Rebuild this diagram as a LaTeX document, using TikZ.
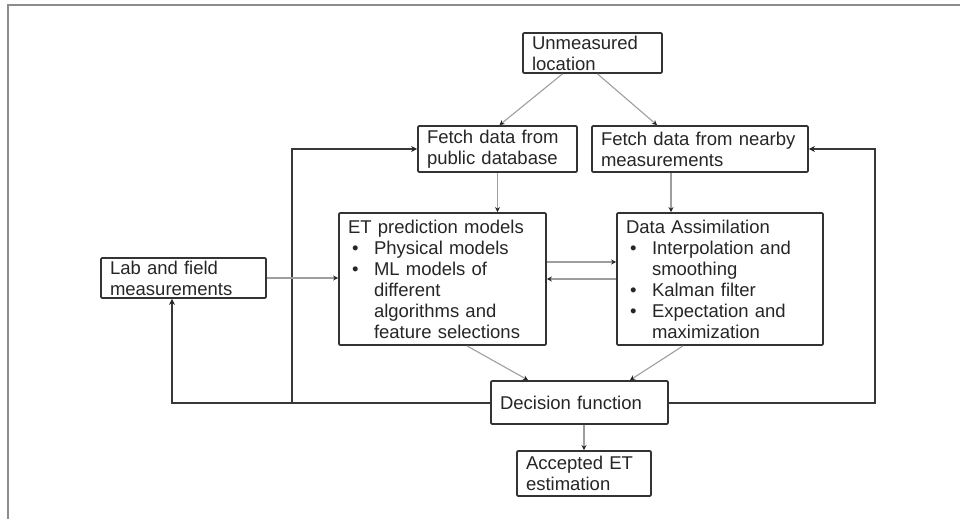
\documentclass[tikz,border=0pt]{standalone}
\usepackage{fontspec}
\setmainfont{Liberation Sans}
\usetikzlibrary{arrows.meta}
\newcommand{\bul}{\hspace*{4pt}\makebox[22pt][l]{\textbullet}}
\newcommand{\cont}{\hspace*{26pt}}
\begin{document}
\begin{tikzpicture}[x=1pt,y=-1pt,
  box/.style={draw=black!80, line width=1.8pt, rounded corners=1.2pt, fill=white,
    text=black!85, inner xsep=9pt, inner ysep=0pt, align=left,
    font=\fontsize{18.5}{21}\selectfont},
  flow/.style={draw=black!38, line width=1.1pt,
    -{Stealth[length=5pt,width=5pt,color=black!85]}},
  loop/.style={draw=black!78, line width=2pt},
  loopend/.style={loop, -{Stealth[length=6pt,width=6pt,color=black!85]}},
  frame/.style={draw=black!45, line width=2pt}]

% page area and partial frame
\useasboundingbox (0,0) rectangle (960,519);
\draw[frame] (960,5.5) -- (8,5.5) -- (8,519);

% boxes
\node[box, text width=121pt, minimum height=40pt] (unm) at (592.5,53) {Unmeasured\\location};
\node[box, text width=141pt, minimum height=46pt] (pub) at (497.5,149) {Fetch data from\\public database};
\node[box, text width=198pt, minimum height=46pt] (nby) at (700,149) {Fetch data from nearby\\measurements};
\node[box, text width=189pt, minimum height=132pt] (etp) at (442.5,279)
  {ET prediction models\\\bul Physical models\\\bul ML models of\\\cont different\\\cont algorithms and\\\cont feature selections};
\node[box, text width=188pt, minimum height=132pt] (das) at (720,279)
  {Data Assimilation\\\bul Interpolation and\\\cont smoothing\\\bul Kalman filter\\\bul Expectation and\\\cont maximization};
\node[box, text width=147pt, minimum height=40pt] (lab) at (183.5,278) {Lab and field\\measurements};
\node[box, text width=159pt, minimum height=43pt] (dec) at (579.5,402.5) {Decision function};
\node[box, text width=116pt, minimum height=45pt] (acc) at (584,473.5) {Accepted ET\\estimation};

% junctions of the feedback loops
\coordinate (jl) at (292,402.5);
\coordinate (jr) at (875,402.5);

% feedback loops
\draw[loopend] (dec.west) -| ([xshift=-11.5pt]lab.south);
\draw[loopend] (jl) |- (pub.west);
\draw[loopend] (dec.east) -- (jr) |- (nby.east);

% data flow
\draw[flow] ([xshift=-30pt]unm.south) -- ([xshift=2pt]pub.north);
\draw[flow] ([xshift=5pt]unm.south) -- ([xshift=-43pt]nby.north);
\draw[flow] (pub.south) -- (pub.south |- etp.north);
\draw[flow] ([xshift=-49pt]das.north |- nby.south) -- ([xshift=-49pt]das.north);
\draw[flow] (lab.east) -- (lab.east -| etp.west);
\draw[flow] ([yshift=17pt]etp.east) -- ([yshift=17pt]das.west);
\draw[flow] (das.west) -- (etp.east);
\draw[flow] ([xshift=24.5pt]etp.south) -- ([xshift=-51.5pt]dec.north);
\draw[flow] ([xshift=-37pt]das.south) -- ([xshift=50.5pt]dec.north);
\draw[flow] (dec.south -| acc.north) -- (acc.north);
\end{tikzpicture}
\end{document}
